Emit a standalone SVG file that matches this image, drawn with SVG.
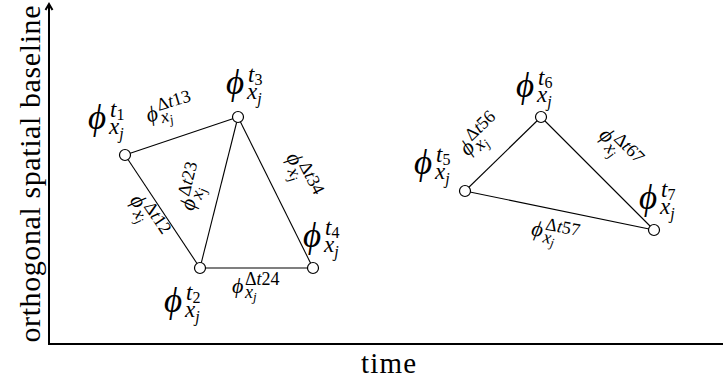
<svg xmlns="http://www.w3.org/2000/svg" width="723" height="386" viewBox="0 0 723 386">
<style>
.bg{fill:#fff}
.axis{stroke:#000;stroke-width:2;fill:none}
.edge{stroke:#000;stroke-width:1.1;fill:none}
.node{fill:#fff;stroke:#000;stroke-width:1.2}
.t{font-family:"Liberation Serif","Times New Roman","DejaVu Serif",serif;fill:#000}
.i{font-style:italic}
.nl{font-size:23px}
.el{font-size:18px}
.big{font-size:35px}
.sm{font-size:16px}
.phs{font-size:22px}
.xs{font-size:13px}
</style>
<rect class="bg" x="0" y="0" width="723" height="386"/>
<g id="axes">
<path class="axis" d="M49,5 L49,344 L723,344"/>
<path class="axis" d="M45.5,10 L49,4 L52.5,10" stroke-width="1.5"/>
<text class="t" font-size="30" text-anchor="middle" textLength="337" lengthAdjust="spacing" transform="translate(40,174) rotate(-90)">orthogonal spatial baseline</text>
<text class="t" font-size="29" x="361" y="373" textLength="55" lengthAdjust="spacing">time</text>
</g>
<g id="connectors">
<line class="edge" x1="125" y1="155" x2="238" y2="117"/>
<line class="edge" x1="125" y1="155" x2="200" y2="268"/>
<line class="edge" x1="200" y1="268" x2="238" y2="117"/>
<line class="edge" x1="238" y1="117" x2="313" y2="268"/>
<line class="edge" x1="200" y1="268" x2="313" y2="268"/>
<line class="edge" x1="465" y1="191" x2="541" y2="117"/>
<line class="edge" x1="541" y1="117" x2="654" y2="230"/>
<line class="edge" x1="465" y1="191" x2="654" y2="230"/>
</g>
<g id="edge-labels">
<text class="t el" transform="translate(172,110) rotate(-17)" x="-26" y="5"><tspan class="i phs">ϕ</tspan><tspan x="-13" y="-3">Δ</tspan><tspan class="i">t</tspan>13<tspan class="i" x="-13" y="10">x</tspan><tspan class="i xs" dy="3">j</tspan></text>
<text class="t el" transform="translate(148,219) rotate(56)" x="-26" y="5"><tspan class="i phs">ϕ</tspan><tspan x="-13" y="-3">Δ</tspan><tspan class="i">t</tspan>12<tspan class="i" x="-13" y="10">x</tspan><tspan class="i xs" dy="3">j</tspan></text>
<text class="t el" transform="translate(195,185) rotate(-76)" x="-26" y="5"><tspan class="i phs">ϕ</tspan><tspan x="-13" y="-3">Δ</tspan><tspan class="i">t</tspan>23<tspan class="i" x="-13" y="10">x</tspan><tspan class="i xs" dy="3">j</tspan></text>
<text class="t el" transform="translate(302,178) rotate(63)" x="-26" y="5"><tspan class="i phs">ϕ</tspan><tspan x="-13" y="-3">Δ</tspan><tspan class="i">t</tspan>34<tspan class="i" x="-13" y="10">x</tspan><tspan class="i xs" dy="3">j</tspan></text>
<text class="t el" transform="translate(258,288)" x="-26" y="5"><tspan class="i phs">ϕ</tspan><tspan x="-13" y="-3">Δ</tspan><tspan class="i">t</tspan>24<tspan class="i" x="-13" y="10">x</tspan><tspan class="i xs" dy="3">j</tspan></text>
<text class="t el" transform="translate(483,135) rotate(-44)" x="-26" y="5"><tspan class="i phs">ϕ</tspan><tspan x="-13" y="-3">Δ</tspan><tspan class="i">t</tspan>56<tspan class="i" x="-13" y="10">x</tspan><tspan class="i xs" dy="3">j</tspan></text>
<text class="t el" transform="translate(620,151) rotate(45)" x="-26" y="5"><tspan class="i phs">ϕ</tspan><tspan x="-13" y="-3">Δ</tspan><tspan class="i">t</tspan>67<tspan class="i" x="-13" y="10">x</tspan><tspan class="i xs" dy="3">j</tspan></text>
<text class="t el" transform="translate(557,235) rotate(11)" x="-26" y="5"><tspan class="i phs">ϕ</tspan><tspan x="-13" y="-3">Δ</tspan><tspan class="i">t</tspan>57<tspan class="i" x="-13" y="10">x</tspan><tspan class="i xs" dy="3">j</tspan></text>
</g>
<g id="n1"><circle class="node" cx="125" cy="155" r="5.5"/><text class="t nl" x="88" y="129"><tspan class="i big">ϕ</tspan><tspan class="i" x="110" y="117">t</tspan><tspan class="sm" dy="3">1</tspan><tspan class="i" x="109" y="134">x</tspan><tspan class="i sm" dy="5">j</tspan></text></g>
<g id="n2"><circle class="node" cx="200" cy="268" r="5.5"/><text class="t nl" x="164" y="312"><tspan class="i big">ϕ</tspan><tspan class="i" x="186" y="300">t</tspan><tspan class="sm" dy="3">2</tspan><tspan class="i" x="185" y="317">x</tspan><tspan class="i sm" dy="5">j</tspan></text></g>
<g id="n3"><circle class="node" cx="238" cy="117" r="5.5"/><text class="t nl" x="226" y="94"><tspan class="i big">ϕ</tspan><tspan class="i" x="248" y="82">t</tspan><tspan class="sm" dy="3">3</tspan><tspan class="i" x="247" y="99">x</tspan><tspan class="i sm" dy="5">j</tspan></text></g>
<g id="n4"><circle class="node" cx="313" cy="268" r="5.5"/><text class="t nl" x="303" y="247"><tspan class="i big">ϕ</tspan><tspan class="i" x="325" y="235">t</tspan><tspan class="sm" dy="3">4</tspan><tspan class="i" x="324" y="252">x</tspan><tspan class="i sm" dy="5">j</tspan></text></g>
<g id="n5"><circle class="node" cx="465" cy="191" r="5.5"/><text class="t nl" x="414" y="174"><tspan class="i big">ϕ</tspan><tspan class="i" x="436" y="162">t</tspan><tspan class="sm" dy="3">5</tspan><tspan class="i" x="435" y="179">x</tspan><tspan class="i sm" dy="5">j</tspan></text></g>
<g id="n6"><circle class="node" cx="541" cy="117" r="5.5"/><text class="t nl" x="516" y="97"><tspan class="i big">ϕ</tspan><tspan class="i" x="538" y="85">t</tspan><tspan class="sm" dy="3">6</tspan><tspan class="i" x="537" y="102">x</tspan><tspan class="i sm" dy="5">j</tspan></text></g>
<g id="n7"><circle class="node" cx="654" cy="230" r="5.5"/><text class="t nl" x="639" y="209"><tspan class="i big">ϕ</tspan><tspan class="i" x="661" y="197">t</tspan><tspan class="sm" dy="3">7</tspan><tspan class="i" x="660" y="214">x</tspan><tspan class="i sm" dy="5">j</tspan></text></g>
</svg>
